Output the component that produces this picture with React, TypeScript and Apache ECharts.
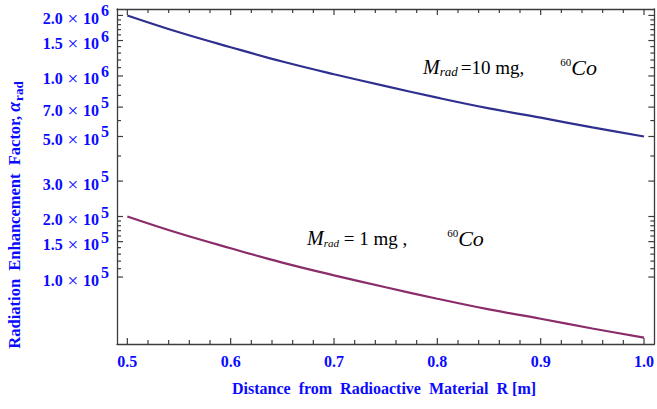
import React, { useEffect, useRef } from "react";
import * as echarts from "echarts";

// Distance from radioactive material R [m]
const distanceR = [0.5, 0.55, 0.6, 0.65, 0.7, 0.75, 0.8, 0.85, 0.9, 0.95, 1.0];
// Radiation enhancement factor, M_rad = 10 mg
const alpha10mg = [2000000, 1650000, 1390000, 1180000, 1020000, 890000, 780000, 690000, 620000, 555000, 500000];
// Radiation enhancement factor, M_rad = 1 mg
const alpha1mg = [200000, 165000, 139000, 118000, 102000, 89000, 78000, 69000, 62000, 55500, 50000];

const xMajorTicks = [0.5, 0.6, 0.7, 0.8, 0.9, 1.0];
const xTickLabels = ["0.5", "0.6", "0.7", "0.8", "0.9", "1.0"];
const xMinorTicks = [
  0.52, 0.54, 0.56, 0.58, 0.62, 0.64, 0.66, 0.68, 0.72, 0.74, 0.76, 0.78,
  0.82, 0.84, 0.86, 0.88, 0.92, 0.94, 0.96, 0.98,
];

const yMajorTicks = [100000, 150000, 200000, 300000, 500000, 700000, 1000000, 1500000, 2000000];
const yTickMantissa = ["1.0", "1.5", "2.0", "3.0", "5.0", "7.0", "1.0", "1.5", "2.0"];
const yTickExponent = ["5", "5", "5", "5", "5", "5", "6", "6", "6"];
const yMinorTicks = [
  110000, 120000, 130000, 140000, 160000, 170000, 180000, 190000, 400000, 600000,
  800000, 900000, 1100000, 1200000, 1300000, 1400000, 1600000, 1700000, 1800000, 1900000,
];

const serif = '"Liberation Serif", "Times New Roman", serif';
const BLUE = "#0a0aff";
const AXIS = "#3c3c3c";

const lg = (v: number) => Math.log10(v);

export default function App() {
  const ref = useRef<HTMLDivElement>(null);

  useEffect(() => {
    if (!ref.current) return;
    const chart = echarts.init(ref.current, null, { renderer: "svg" });

    const xMin = 0.49;
    const xMax = 1.01;
    const yMin = 4.667;
    const yMax = 6.333;

    const nearest = (arr: number[], v: number) => {
      let best = 0;
      arr.forEach((t, i) => {
        if (Math.abs(t - v) < Math.abs(arr[best] - v)) best = i;
      });
      return best;
    };

    const xAxisOpt = (pos: "top" | "bottom", labels: boolean) => ({
      type: "value",
      position: pos,
      min: xMin,
      max: xMax,
      axisLine: { show: true, onZero: false, lineStyle: { color: AXIS, width: 1.3 } },
      axisTick: { show: false },
      axisLabel: labels
        ? {
            show: true,
            customValues: xMajorTicks,
            margin: 9,
            color: BLUE,
            fontFamily: serif,
            fontWeight: "bold",
            fontSize: 16,
            formatter: (v: number) => xTickLabels[nearest(xMajorTicks, v)],
          }
        : { show: false },
      splitLine: { show: false },
    });

    const yAxisOpt = (pos: "left" | "right", labels: boolean) => ({
      type: "value",
      position: pos,
      min: yMin,
      max: yMax,
      axisLine: { show: true, onZero: false, lineStyle: { color: AXIS, width: 1.3 } },
      axisTick: { show: false },
      axisLabel: labels
        ? {
            show: true,
            customValues: yMajorTicks.map(lg),
            margin: 8,
            formatter: (v: number) => {
              const i = nearest(yMajorTicks.map(lg), v);
              return `{m|${yTickMantissa[i]}}{x| \u00d7 }{m|10}{e|${yTickExponent[i]}}`;
            },
            rich: {
              m: { color: BLUE, fontFamily: serif, fontWeight: "bold", fontSize: 16, padding: [6, 0, 0, 0] },
              x: { color: BLUE, fontFamily: serif, fontSize: 19, padding: [6, 0, 0, 0] },
              e: { color: BLUE, fontFamily: serif, fontWeight: "bold", fontSize: 16, padding: [0, 0, 9, 2] },
            },
          }
        : { show: false },
      splitLine: { show: false },
    });

    const texts: any[] = [
      {
        id: "ytitle",
        type: "text",
        x: 14,
        y: 215,
        rotation: Math.PI / 2,
        style: {
          text: "{t|Radiation  Enhancement  Factor, }{a|\u03b1}{s|rad}",
          align: "center",
          verticalAlign: "middle",
          rich: {
            t: { fill: BLUE, fontFamily: serif, fontWeight: "bold", fontSize: 16.5 },
            a: { fill: BLUE, fontFamily: serif, fontWeight: "bold", fontStyle: "italic", fontSize: 18 },
            s: { fill: BLUE, fontFamily: serif, fontWeight: "bold", fontSize: 13, padding: [8, 0, 0, 1] },
          },
        },
      },
      {
        id: "xtitle",
        type: "text",
        x: 384,
        y: 388,
        style: {
          text: "Distance  from  Radioactive  Material  R [m]",
          align: "center",
          verticalAlign: "middle",
          fill: BLUE,
          fontFamily: serif,
          fontWeight: "bold",
          fontSize: 16,
        },
      },
      {
        id: "note10",
        type: "text",
        x: 423,
        y: 67,
        style: {
          text: "{M|M}{s|rad}{r|=10 mg,}{g| }{p|60}{C|Co}",
          align: "left",
          verticalAlign: "middle",
          rich: {
            M: { fill: "#000", fontFamily: serif, fontStyle: "italic", fontSize: 20 },
            s: { fill: "#000", fontFamily: serif, fontStyle: "italic", fontSize: 13, padding: [9, 3, 0, 0] },
            r: { fill: "#000", fontFamily: serif, fontSize: 19 },
            g: { fill: "#000", fontFamily: serif, fontSize: 19, width: 36 },
            p: { fill: "#000", fontFamily: serif, fontSize: 11, padding: [0, 0, 10, 0] },
            C: { fill: "#000", fontFamily: serif, fontStyle: "italic", fontSize: 22 },
          },
        },
      },
      {
        id: "note1",
        type: "text",
        x: 307,
        y: 238,
        style: {
          text: "{M|M}{s|rad}{r| = 1 mg ,}{g| }{p|60}{C|Co}",
          align: "left",
          verticalAlign: "middle",
          rich: {
            M: { fill: "#000", fontFamily: serif, fontStyle: "italic", fontSize: 20 },
            s: { fill: "#000", fontFamily: serif, fontStyle: "italic", fontSize: 11, padding: [9, 0, 0, 0] },
            r: { fill: "#000", fontFamily: serif, fontSize: 19 },
            g: { fill: "#000", fontFamily: serif, fontSize: 19, width: 40 },
            p: { fill: "#000", fontFamily: serif, fontSize: 11, padding: [0, 0, 10, 0] },
            C: { fill: "#000", fontFamily: serif, fontStyle: "italic", fontSize: 22 },
          },
        },
      },
    ];

    const option: any = {
      animation: false,
      backgroundColor: "#ffffff",
      grid: { left: 117, top: 9, right: 0, bottom: 65, containLabel: false },
      xAxis: [xAxisOpt("bottom", true), xAxisOpt("top", false)],
      yAxis: [yAxisOpt("left", true), yAxisOpt("right", false)],
      series: [
        {
          name: "10 mg",
          type: "line",
          xAxisIndex: 0,
          yAxisIndex: 0,
          data: distanceR.map((r, i) => [r, lg(alpha10mg[i])]),
          smooth: 0.4,
          showSymbol: false,
          lineStyle: { color: "#2f2f8f", width: 2.2 },
        },
        {
          name: "1 mg",
          type: "line",
          xAxisIndex: 0,
          yAxisIndex: 0,
          data: distanceR.map((r, i) => [r, lg(alpha1mg[i])]),
          smooth: 0.4,
          showSymbol: false,
          lineStyle: { color: "#8b2c6a", width: 2.2 },
        },
      ],
      graphic: texts,
    };

    chart.setOption(option);

    // Frame ticks (inward, on all four sides) placed through the chart's own axis scales
    const px = (x: number, y: number) =>
      chart.convertToPixel({ xAxisIndex: 0, yAxisIndex: 0 }, [x, y]) as number[];
    const ticks: any[] = [];
    const mk = (id: string, x: number, y: number, w: number, h: number) => ({
      id,
      type: "rect",
      silent: true,
      z: 10,
      shape: { x, y, width: w, height: h },
      style: { fill: AXIS },
    });
    const addX = (vals: number[], len: number, tag: string) =>
      vals.forEach((v, i) => {
        const b = px(v, yMin);
        const t = px(v, yMax);
        ticks.push(mk(`xb${tag}${i}`, b[0] - 0.6, b[1] - len, 1.2, len));
        ticks.push(mk(`xt${tag}${i}`, t[0] - 0.6, t[1], 1.2, len));
      });
    const addY = (vals: number[], len: number, tag: string) =>
      vals.forEach((v, i) => {
        const l = px(xMin, lg(v));
        const r = px(xMax, lg(v));
        ticks.push(mk(`yl${tag}${i}`, l[0], l[1] - 0.6, len, 1.2));
        ticks.push(mk(`yr${tag}${i}`, r[0] - len, r[1] - 0.6, len, 1.2));
      });
    addX(xMajorTicks, 6, "M");
    addX(xMinorTicks, 4, "m");
    addY(yMajorTicks, 6, "M");
    addY(yMinorTicks, 4, "m");

    chart.setOption({ graphic: [...texts, ...ticks] });

    return () => chart.dispose();
  }, []);

  return (
    <div
      ref={ref}
      style={{ position: "fixed", left: 0, top: 0, width: 657, height: 409, background: "#fff" }}
    />
  );
}
